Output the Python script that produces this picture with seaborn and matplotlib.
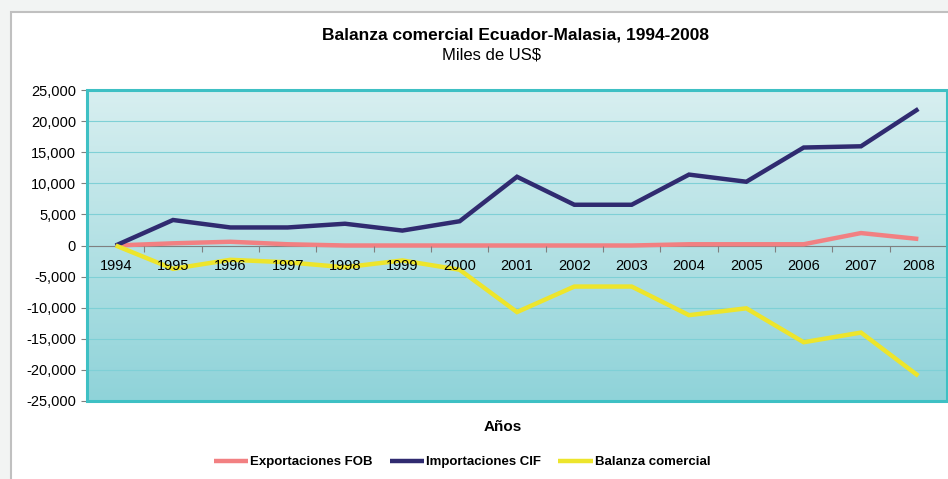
import numpy as np
import pandas as pd
import matplotlib
matplotlib.use("Agg")
import matplotlib.pyplot as plt
from matplotlib.patches import Rectangle
from matplotlib.colors import LinearSegmentedColormap
from matplotlib.lines import Line2D
import seaborn as sns

years = ["1994", "1995", "1996", "1997", "1998", "1999", "2000", "2001",
         "2002", "2003", "2004", "2005", "2006", "2007", "2008"]
exportaciones = [0, 350, 600, 200, 0, 0, 0, 0, 0, 0, 200, 200, 200, 2000, 1050]
importaciones = [0, 4100, 2900, 2900, 3500, 2400, 3900, 11050, 6550, 6550,
                 11400, 10250, 15750, 15950, 21950]
balanza = [0, -3750, -2300, -2700, -3500, -2400, -3900, -10700, -6600, -6600,
           -11200, -10100, -15550, -14000, -20950]
series_names = ["Exportaciones FOB", "Importaciones CIF", "Balanza comercial"]
colors = ["#F28082", "#302B70", "#EDE52C"]
yticks = list(range(-25000, 25001, 5000))

sns.set_theme(style="white")
plt.rcParams['font.family'] = ['Liberation Sans', 'DejaVu Sans']
plt.rcParams['text.color'] = 'black'
plt.rcParams['xtick.color'] = 'black'
plt.rcParams['ytick.color'] = 'black'

W, H = 948, 479
fig = plt.figure(figsize=(W / 100, H / 100), dpi=100, facecolor="#F2F4F3")
# white chart area with grey border
fig.patches.append(Rectangle((10.5 / W, -0.1), 1, 1.1 - 12.5 / H, transform=fig.transFigure,
                             facecolor="white", edgecolor="#C0C0C0", linewidth=1.5,
                             zorder=-10))

ax = fig.add_axes([87 / W, 1 - 401 / H, 860 / W, 311 / H])
ax.set_facecolor("none")
ax.set_zorder(1)

# gradient background
grad = np.linspace(0, 1, 256).reshape(-1, 1)
cmap = LinearSegmentedColormap.from_list("g", ["#8FD3D9", "#D8EFF0"])
ax.imshow(grad, extent=[0, 1, 0, 1], transform=ax.transAxes, cmap=cmap,
          origin="lower", aspect="auto", zorder=0)

x = np.arange(len(years))
df = pd.DataFrame({
    "x": np.concatenate([x, x, x]),
    "valor": exportaciones + importaciones + balanza,
    "serie": [series_names[0]] * len(years) + [series_names[1]] * len(years)
             + [series_names[2]] * len(years),
})
sns.lineplot(data=df, x="x", y="valor", hue="serie", palette=colors,
             linewidth=3.2, ax=ax, legend=False, zorder=3,
             solid_capstyle="butt", solid_joinstyle="miter")

ax.set_xlim(-0.5, len(years) - 0.5)
ax.set_ylim(-25000, 25000)
ax.set_yticks(yticks)
ax.set_yticklabels([f"{v:,}" for v in yticks], fontsize=10.5, color="black")
ax.tick_params(axis="y", length=4, width=0.8, color="#808080", labelcolor="black",
               pad=4, left=True)
ax.grid(axis="y", color="#7FD0D6", linewidth=0.8, zorder=1)
ax.set_axisbelow(True)

# x axis at zero
for s in ["left", "right", "top"]:
    ax.spines[s].set_visible(False)
ax.spines["bottom"].set_position(("data", 0))
ax.spines["bottom"].set_color("#808080")
ax.spines["bottom"].set_linewidth(0.8)
ax.spines["bottom"].set_zorder(2)
ax.set_xticks(x)
ax.set_xticklabels(years, fontsize=10.5, color="black")
ax.set_xticks(np.arange(-0.5, len(years) + 0.5, 1), minor=True)
ax.tick_params(axis="x", which="major", length=0, pad=10, bottom=True, labelcolor="black")
ax.tick_params(axis="x", which="minor", length=4, width=0.8, color="#808080",
               direction="out", bottom=True)
ax.xaxis.set_zorder(4)
ax.set_xlabel("")
ax.set_ylabel("")

# frame
ax.add_patch(Rectangle((0, 0), 1, 1, transform=ax.transAxes, fill=False,
                       edgecolor="#3EC0C4", linewidth=2.2, zorder=5, clip_on=False))

fig.text(515 / W, 1 - 35 / H, "Balanza comercial Ecuador-Malasia, 1994-2008",
         ha="center", va="center", fontsize=12.5, fontweight="bold", color="black")
fig.text(492 / W, 1 - 55 / H, "Miles de US$", ha="center", va="center", fontsize=12,
         color="black")
fig.text(503 / W, 1 - 427 / H, "Años", ha="center", va="center", fontsize=11,
         fontweight="bold", color="black")

handles = [Line2D([0], [0], color=c, linewidth=3.2, solid_capstyle="butt") for c in colors]
leg = fig.legend(handles, series_names, loc="center", bbox_to_anchor=(462 / W, 1 - 462 / H),
                 ncol=3, frameon=False, handlelength=2.6, handletextpad=0.15,
                 columnspacing=1.3, prop={"size": 9.5, "weight": "bold"})
for t in leg.get_texts():
    t.set_color("black")

fig.savefig("out.png", dpi=100, facecolor=fig.get_facecolor())
